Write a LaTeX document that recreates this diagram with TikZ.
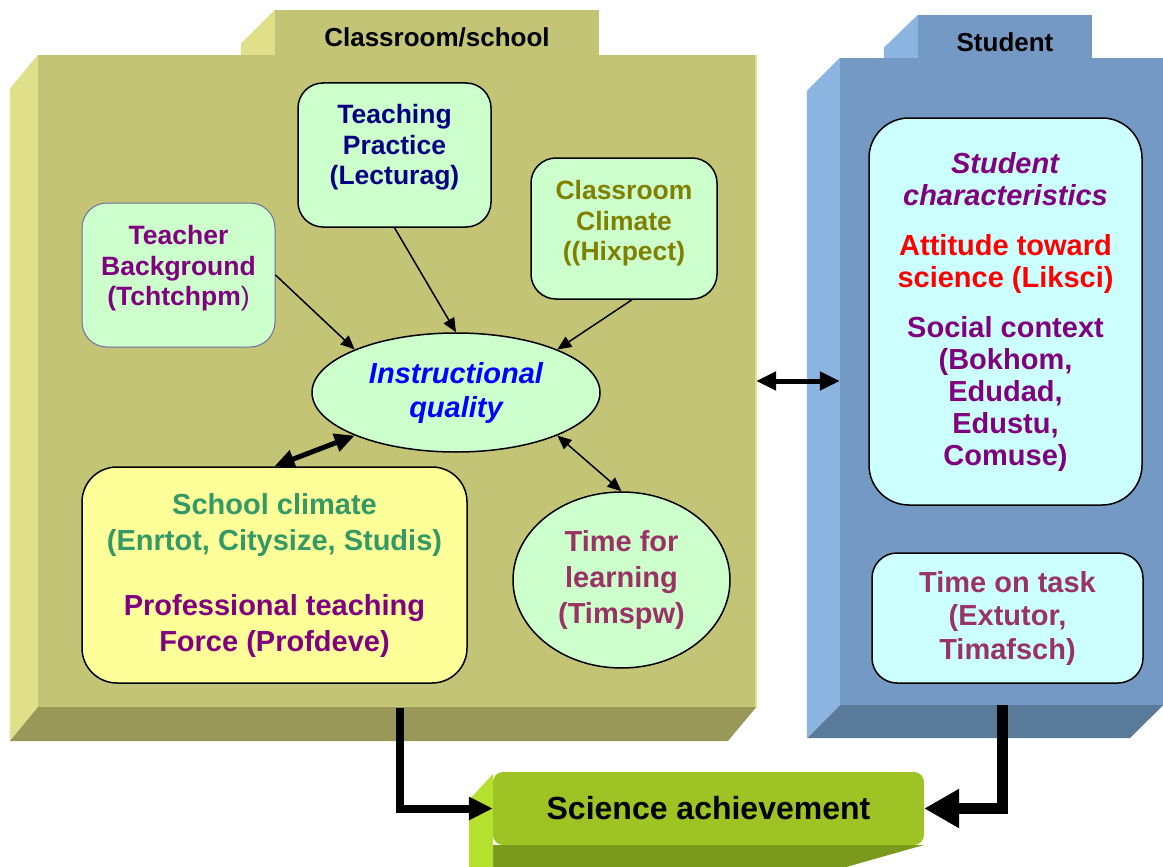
\documentclass[tikz,border=0pt]{standalone}
\usepackage{fontspec}
\setmainfont{Liberation Sans}
\usetikzlibrary{arrows.meta,shapes.geometric}

\definecolor{olivefront}{RGB}{196,196,119}
\definecolor{oliveside}{RGB}{224,224,138}
\definecolor{olivebottom}{RGB}{154,152,88}
\definecolor{bluefront}{RGB}{115,153,196}
\definecolor{blueside}{RGB}{139,180,224}
\definecolor{bluebottom}{RGB}{90,122,154}
\definecolor{greenfront}{RGB}{157,196,36}
\definecolor{greenside}{RGB}{181,224,48}
\definecolor{greenbottom}{RGB}{122,154,30}
\definecolor{mint}{RGB}{204,255,204}
\definecolor{paleyellow}{RGB}{255,255,153}
\definecolor{palecyan}{RGB}{204,255,255}
\definecolor{navytext}{RGB}{0,0,128}
\definecolor{olivetext}{RGB}{128,128,0}
\definecolor{purpletext}{RGB}{128,0,128}
\definecolor{plumtext}{RGB}{153,51,102}
\definecolor{seatext}{RGB}{51,153,102}
\definecolor{tbborder}{RGB}{110,110,160}

\tikzset{
  panel/.style={inner sep=0pt, font=\fontsize{26}{30}\selectfont\bfseries},
  smallbox/.style={draw, line width=1.5pt, rounded corners=25pt, fill=mint, align=center,
    inner sep=0pt, font=\fontsize{26.5}{30.5}\selectfont\bfseries},
  bigbox/.style={draw, line width=1.5pt, align=center, inner sep=0pt,
    font=\fontsize{29}{32}\selectfont\bfseries},
  oval/.style={ellipse, draw, line width=1.5pt, fill=mint, align=center, inner sep=0pt},
  feed/.style={line width=1.5pt, -{Triangle[length=14pt,width=12pt]}},
  twoway/.style={line width=1.5pt, {Triangle[length=14pt,width=12pt]}-{Triangle[length=14pt,width=12pt]}},
  thicklink/.style={line width=5pt, {Triangle[length=20pt,width=18pt]}-{Triangle[length=20pt,width=18pt]}},
  bigfeed/.style={line width=8pt, -{Triangle[length=24pt,width=22pt]}}
}

\begin{document}
\begin{tikzpicture}[x=1pt,y=-1pt]
\useasboundingbox (0,0) rectangle (1163,867);

% tabs behind the two blocks
\node[panel, fill=olivefront, minimum width=324pt, minimum height=55pt] (classtab) at (437,37.5) {Classroom/school};
\fill[oliveside] (classtab.north west) -- ++(-34,34) |- (classtab.south west) -- cycle;
\node[panel, fill=bluefront, minimum width=174pt, minimum height=54pt] (studtab) at (1005,42) {Student};
\fill[blueside] (studtab.north west) -- ++(-34,33) |- (studtab.south west) -- cycle;

% classroom/school block
\node[panel, fill=olivefront, minimum width=718pt, minimum height=652pt] (classroom) at (397,381) {};
\fill[oliveside] (classroom.north west) -- ++(-28,34) -- ++(0,652) -- (classroom.south west) -- cycle;
\fill[olivebottom] (classroom.south west) -- ++(-28,34) -- ++(718,0) -- (classroom.south east) -- cycle;
\draw[oliveside, line width=2pt] (classroom.north east) -- (classroom.south east);

% student block
\node[panel, fill=bluefront, minimum width=323pt, minimum height=647pt] (student) at (1001.5,381.5) {};
\fill[blueside] (student.north west) -- ++(-33,33) -- ++(0,647) -- (student.south west) -- cycle;
\fill[bluebottom] (student.south west) -- ++(-33,33) -- ++(323,0) -- (student.south east) -- cycle;

% science achievement
\fill[greenbottom] (493,845) -- (924,845) -- (846,867) -- (469,867) -- cycle;
\fill[greenside] (493,774) -- (469,800) -- (469,867) -- (493,867) -- cycle;
\node[panel, fill=greenfront, rounded corners=10pt, minimum width=431pt, minimum height=73pt,
  font=\fontsize{32}{36}\selectfont\bfseries] (sa) at (708.5,808.5) {Science achievement};

% classroom factors
\node[smallbox, draw=tbborder, line width=1pt, text=purpletext, minimum width=193pt, minimum height=144pt]
  (tb) at (178.5,275) {Teacher\\Background\\(Tchtchpm\textmd{)}\\[-12pt]\mbox{}};
\node[smallbox, text=navytext, minimum width=193pt, minimum height=144pt]
  (tp) at (394.5,155) {Teaching\\Practice\\(Lecturag)\\[-10pt]\mbox{}};
\node[smallbox, text=olivetext, minimum width=186pt, minimum height=141pt]
  (cc) at (624,228.5) {Classroom\\Climate\\((Hixpect)\\[-15pt]\mbox{}};
\node[oval, text=blue, minimum width=288pt, minimum height=119pt,
  font=\fontsize{29}{34}\selectfont\bfseries\itshape] (iq) at (456,392.5) {Instructional\\quality};
\node[bigbox, fill=paleyellow, rounded corners=35pt, minimum width=385pt, minimum height=216pt,
  text=purpletext, font=\fontsize{29}{36}\selectfont\bfseries] (scl) at (274.5,575)
  {\textcolor{seatext}{School climate}\\\textcolor{seatext}{(Enrtot, Citysize, Studis)}\\[29pt]Professional teaching\\Force (Profdeve)};
\node[oval, text=plumtext, minimum width=217pt, minimum height=176pt,
  font=\fontsize{29}{36}\selectfont\bfseries] (tfl) at (621.5,580) {Time for\\learning\\(Timspw)};

% student factors
\node[bigbox, fill=palecyan, rounded corners=40pt, minimum width=273pt, minimum height=387pt, text=purpletext]
  (stc) at (1005.5,311.5) {\textit{Student}\\\textit{characteristics}\\[18pt]\textcolor{red}{Attitude toward}\\\textcolor{red}{science (Liksci)}\\[18pt]Social context\\(Bokhom,\\Edudad,\\Edustu,\\Comuse)};
\node[bigbox, fill=palecyan, rounded corners=25pt, minimum width=271pt, minimum height=130pt, text=plumtext,
  font=\fontsize{29}{33.5}\selectfont\bfseries] (tot) at (1007.5,618) {Time on task\\(Extutor,\\Timafsch)};

% connectors
\draw[feed] (tb.east) -- (iq.157);
\draw[feed] (tp.south) -- (iq.north);
\draw[feed] ([xshift=8pt]cc.south) -- (iq.23);
\draw[thicklink] (scl.north) -- (iq.203);
\draw[twoway] (iq.337) -- (tfl.north);
\draw[thicklink] (classroom.east) -- (classroom.east -| student.west);

\coordinate (classout) at (400,708);
\coordinate (studout) at (1002,705);
\draw[bigfeed] (classout) |- (sa.west);
\draw[line width=11pt, -{Triangle[length=35pt,width=37pt]}] (studout) |- (sa.east);
\end{tikzpicture}
\end{document}
